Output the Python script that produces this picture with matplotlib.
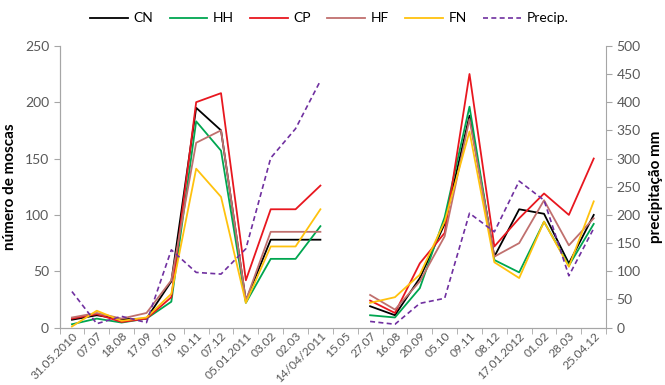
import numpy as np
import matplotlib.pyplot as plt

plt.rcParams['font.family'] = ['Lato', 'DejaVu Sans']

datas = ['31.05.2010', '07.07', '18.08', '17.09', '07.10', '10.11', '07.12',
         '05.01.2011', '03.02', '02.03', '14/04/2011', '15.05', '27.07', '16.08',
         '20.09', '05.10', '09.11', '08.12', '17.01.2012', '01.02', '28.03', '25.04.12']

nan = np.nan
cn = [7, 11, 7.5, 8, 41, 195, 175, 24, 78, 78, 78, nan,
      19, 11, 44, 92, 188, 63, 105, 101, 57, 100]
hh = [3, 8, 4.5, 8, 23, 183, 157, 22, 61, 61, 90, nan,
      11, 9, 35, 98, 196, 60, 49, 94, 55, 92]
cp = [8, 12, 5, 8, 27, 200, 208, 42, 105, 105, 126, nan,
      24, 13, 57, 84, 225, 72, 97, 119, 100, 150]
hf = [9, 13, 8, 13, 42, 164, 175, 24, 85, 85, 85, nan,
      29, 16, 41, 81, 185, 63, 75, 113, 73, 97]
fn = [1, 15, 6, 9, 30, 141, 116, 22, 72, 72, 105, nan,
      22, 27, 47, 94, 174, 58, 44, 94, 54, 112]
precip = [64, 7, 20, 9, 138, 98, 95, 140, 301, 353, 438, nan,
          11, 6, 43, 52, 203, 170, 260, 226, 92, 176]

series = [('CN', cn, '#000000'), ('HH', hh, '#00A650'), ('CP', cp, '#E8171F'),
          ('HF', hf, '#C0706E'), ('FN', fn, '#FFC20E')]

x = np.arange(len(datas))
gray = '#A6A6A6'
txt = '#595959'

fig = plt.figure(figsize=(6.65, 3.85), dpi=100)
ax = fig.add_axes([0.0895, 0.149, 0.822, 0.732])
ax2 = ax.twinx()

handles = []
for nome, vals, cor in series:
    h, = ax.plot(x, vals, color=cor, linewidth=1.3, label=nome)
    handles.append(h)
h, = ax2.plot(x, precip, color='#7030A0', linewidth=1.2, linestyle=(0, (3, 2)), label='Precip.')
handles.append(h)

ax.set_xlim(-0.5, len(datas) - 0.5)
ax.set_ylim(0, 250)
ax2.set_ylim(0, 500)
ax.set_yticks(np.arange(0, 251, 50))
ax2.set_yticks(np.arange(0, 501, 50))

ax.set_xticks(x)
ax.set_xticklabels(datas, rotation=45, ha='right', rotation_mode='anchor')
ax.set_xticks(np.arange(-0.5, len(datas)), minor=True)
ax.tick_params(axis='x', which='major', length=0, pad=2, labelsize=8.6, labelcolor=txt)
ax.tick_params(axis='x', which='minor', length=4, color=gray)
ax.tick_params(axis='y', length=4, color=gray, labelsize=10, labelcolor=txt)
ax2.tick_params(axis='y', length=4, color=gray, labelsize=10, labelcolor=txt)

for a in (ax, ax2):
    for s in a.spines.values():
        s.set_color(gray)
    a.spines['top'].set_visible(False)
ax.spines['right'].set_visible(False)

ax.set_ylabel('número de moscas', fontsize=11, fontweight='bold', labelpad=6)
ax2.set_ylabel('precipitação mm', fontsize=11, fontweight='bold', labelpad=6)

fig.legend(handles=handles, loc='upper center', bbox_to_anchor=(0.495, 1.0), ncol=6,
           frameon=False, fontsize=10, handlelength=2.7, columnspacing=1.2, handletextpad=0.4)

fig.savefig('out.png', dpi=100)
